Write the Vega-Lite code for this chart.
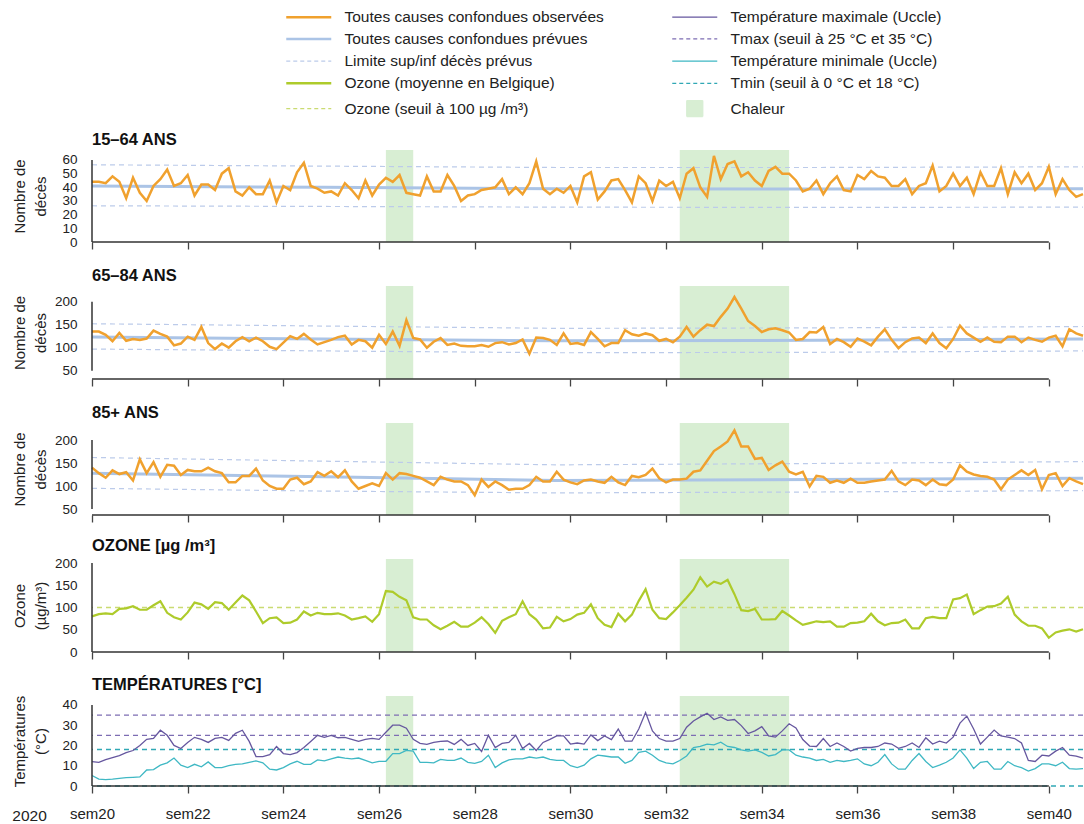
{
  "$schema": "https://vega.github.io/schema/vega-lite/v6.json",
  "padding": {"left": 11, "top": 9, "right": 0, "bottom": 0},
  "spacing": 44,
  "bounds": "flush",
  "config": {
    "font": "Liberation Sans",
    "view": {"stroke": null},
    "range": {"category": ["#F0A12E", "#ABC4E6", "#BCCBEA", "#AECB2B", "#CADB72", "#66579F", "#7D6DB3", "#3FB8C4", "#30A8B5", "#D8EED3"]},
    "title": {"anchor": "start", "frame": "group", "fontSize": 16.5, "fontWeight": "bold", "baseline": "alphabetic", "offset": 2, "color": "#111"},
    "axis": {"labelOverlap": false, "labelSeparation": -40},
    "axisY": {"titleAlign": "center", "titleBaseline": "middle", "titleFontSize": 15, "titleFontWeight": "normal", "titleLineHeight": 21, "titleX": -73, "labelFontSize": 13.5, "labelPadding": 15, "labelOverlap": false, "labelSeparation": -40, "ticks": false, "domain": false, "grid": false, "labelColor": "#222", "titleColor": "#222"},
    "axisX": {"domain": false, "grid": false, "tickSize": 7, "tickColor": "#444", "tickWidth": 1.3, "labelFontSize": 15, "labelPadding": 13, "labelFlush": false, "labelOverlap": false, "labelColor": "#222", "titleColor": "#222"}
  },
  "datasets": {
    "heat": [{"s": "2020-06-23", "e": "2020-06-27"}, {"s": "2020-08-05", "e": "2020-08-21"}],
    "axes": [{"s": "2020-05-11", "e": "2020-09-28"}],
    "ref": [
      {"d": "2020-05-11", "e1": 41, "h1": 56.5, "l1": 26.5, "e2": 123, "h2": 152, "l2": 97, "e3": 128, "h3": 162, "l3": 95},
      {"d": "2020-06-14", "e1": 40, "h1": 55.5, "l1": 26, "e2": 119, "h2": 147, "l2": 93, "e3": 120, "h3": 154, "l3": 89},
      {"d": "2020-07-18", "e1": 39, "h1": 54.5, "l1": 25.5, "e2": 115, "h2": 142, "l2": 89, "e3": 112, "h3": 146, "l3": 85},
      {"d": "2020-08-25", "e1": 38.8, "h1": 54.5, "l1": 25.3, "e2": 116, "h2": 143, "l2": 90, "e3": 114, "h3": 149, "l3": 87},
      {"d": "2020-10-03", "e1": 39, "h1": 55, "l1": 25.5, "e2": 119, "h2": 146, "l2": 93, "e3": 117, "h3": 153, "l3": 90}
    ],
    "daily": [
      {"d": "2020-05-11", "a": 44, "b": 135, "c": 140, "o": 80, "tx": 12, "tn": 5.2},
      {"d": "2020-05-12", "a": 44, "b": 135, "c": 128, "o": 85, "tx": 11.7, "tn": 3.4},
      {"d": "2020-05-13", "a": 43, "b": 128, "c": 118, "o": 87, "tx": 13, "tn": 3.1},
      {"d": "2020-05-14", "a": 48, "b": 114, "c": 134, "o": 85, "tx": 14, "tn": 3.4},
      {"d": "2020-05-15", "a": 44, "b": 132, "c": 126, "o": 97, "tx": 15, "tn": 3.8},
      {"d": "2020-05-16", "a": 32, "b": 115, "c": 130, "o": 98, "tx": 16.5, "tn": 4.1},
      {"d": "2020-05-17", "a": 47, "b": 119, "c": 112, "o": 103, "tx": 17.5, "tn": 4.3},
      {"d": "2020-05-18", "a": 36, "b": 117, "c": 158, "o": 95, "tx": 20, "tn": 4.5},
      {"d": "2020-05-19", "a": 30, "b": 120, "c": 128, "o": 95, "tx": 23, "tn": 7.9},
      {"d": "2020-05-20", "a": 41, "b": 137, "c": 152, "o": 105, "tx": 23.5, "tn": 8.1},
      {"d": "2020-05-21", "a": 46, "b": 130, "c": 120, "o": 114, "tx": 27.5, "tn": 10.3},
      {"d": "2020-05-22", "a": 53, "b": 124, "c": 146, "o": 88, "tx": 25, "tn": 11.4},
      {"d": "2020-05-23", "a": 41, "b": 105, "c": 144, "o": 78, "tx": 20, "tn": 13.8},
      {"d": "2020-05-24", "a": 43, "b": 109, "c": 124, "o": 73, "tx": 18.5, "tn": 10.3},
      {"d": "2020-05-25", "a": 49, "b": 124, "c": 135, "o": 89, "tx": 21.5, "tn": 9.1},
      {"d": "2020-05-26", "a": 34, "b": 117, "c": 132, "o": 111, "tx": 24, "tn": 10.7},
      {"d": "2020-05-27", "a": 42, "b": 145, "c": 132, "o": 107, "tx": 23, "tn": 9.5},
      {"d": "2020-05-28", "a": 42, "b": 110, "c": 140, "o": 97, "tx": 21.5, "tn": 11.9},
      {"d": "2020-05-29", "a": 38, "b": 97, "c": 132, "o": 112, "tx": 23.5, "tn": 9.1},
      {"d": "2020-05-30", "a": 50, "b": 109, "c": 128, "o": 110, "tx": 24, "tn": 9.1},
      {"d": "2020-05-31", "a": 54, "b": 100, "c": 108, "o": 95, "tx": 22.5, "tn": 10},
      {"d": "2020-06-01", "a": 37, "b": 114, "c": 108, "o": 111, "tx": 26, "tn": 10.7},
      {"d": "2020-06-02", "a": 34, "b": 123, "c": 122, "o": 127, "tx": 27.5, "tn": 10.9},
      {"d": "2020-06-03", "a": 40, "b": 114, "c": 122, "o": 116, "tx": 22, "tn": 11.7},
      {"d": "2020-06-04", "a": 35, "b": 122, "c": 138, "o": 91, "tx": 14.5, "tn": 12.4},
      {"d": "2020-06-05", "a": 35, "b": 114, "c": 112, "o": 65, "tx": 14.5, "tn": 11.4},
      {"d": "2020-06-06", "a": 45, "b": 102, "c": 100, "o": 76, "tx": 15.5, "tn": 8.3},
      {"d": "2020-06-07", "a": 29, "b": 97, "c": 94, "o": 78, "tx": 19.5, "tn": 7.9},
      {"d": "2020-06-08", "a": 41, "b": 111, "c": 94, "o": 65, "tx": 16, "tn": 9.1},
      {"d": "2020-06-09", "a": 38, "b": 125, "c": 114, "o": 66, "tx": 15.5, "tn": 10.9},
      {"d": "2020-06-10", "a": 51, "b": 119, "c": 118, "o": 73, "tx": 16.5, "tn": 12.2},
      {"d": "2020-06-11", "a": 58, "b": 130, "c": 104, "o": 91, "tx": 19, "tn": 10.7},
      {"d": "2020-06-12", "a": 41, "b": 118, "c": 110, "o": 82, "tx": 22, "tn": 10.7},
      {"d": "2020-06-13", "a": 39, "b": 107, "c": 130, "o": 88, "tx": 25, "tn": 12.9},
      {"d": "2020-06-14", "a": 36, "b": 112, "c": 122, "o": 85, "tx": 24, "tn": 12.4},
      {"d": "2020-06-15", "a": 37, "b": 117, "c": 132, "o": 85, "tx": 25, "tn": 13.4},
      {"d": "2020-06-16", "a": 34, "b": 123, "c": 119, "o": 87, "tx": 23.8, "tn": 14.3},
      {"d": "2020-06-17", "a": 43, "b": 126, "c": 134, "o": 82, "tx": 24, "tn": 13.8},
      {"d": "2020-06-18", "a": 38, "b": 107, "c": 110, "o": 73, "tx": 23, "tn": 13.4},
      {"d": "2020-06-19", "a": 32, "b": 117, "c": 94, "o": 76, "tx": 22, "tn": 13.8},
      {"d": "2020-06-20", "a": 45, "b": 114, "c": 100, "o": 80, "tx": 23, "tn": 12.6},
      {"d": "2020-06-21", "a": 34, "b": 100, "c": 106, "o": 68, "tx": 23.5, "tn": 11.4},
      {"d": "2020-06-22", "a": 42, "b": 128, "c": 100, "o": 85, "tx": 23, "tn": 12.1},
      {"d": "2020-06-23", "a": 47, "b": 108, "c": 128, "o": 137, "tx": 26.5, "tn": 12.2},
      {"d": "2020-06-24", "a": 44, "b": 135, "c": 114, "o": 135, "tx": 30, "tn": 16},
      {"d": "2020-06-25", "a": 49, "b": 104, "c": 128, "o": 124, "tx": 30, "tn": 16},
      {"d": "2020-06-26", "a": 36, "b": 160, "c": 126, "o": 116, "tx": 28.5, "tn": 17.6},
      {"d": "2020-06-27", "a": 35, "b": 121, "c": 122, "o": 78, "tx": 23, "tn": 17.2},
      {"d": "2020-06-28", "a": 34, "b": 118, "c": 118, "o": 73, "tx": 21, "tn": 11.7},
      {"d": "2020-06-29", "a": 48, "b": 100, "c": 110, "o": 73, "tx": 20.5, "tn": 11.7},
      {"d": "2020-06-30", "a": 37, "b": 113, "c": 102, "o": 60, "tx": 21.5, "tn": 11.4},
      {"d": "2020-07-01", "a": 37, "b": 121, "c": 120, "o": 51, "tx": 22, "tn": 13.1},
      {"d": "2020-07-02", "a": 49, "b": 106, "c": 114, "o": 59, "tx": 22.2, "tn": 12.6},
      {"d": "2020-07-03", "a": 41, "b": 109, "c": 110, "o": 68, "tx": 20.5, "tn": 12.6},
      {"d": "2020-07-04", "a": 30, "b": 104, "c": 110, "o": 57, "tx": 23, "tn": 13.8},
      {"d": "2020-07-05", "a": 34, "b": 103, "c": 102, "o": 57, "tx": 20, "tn": 11.7},
      {"d": "2020-07-06", "a": 35, "b": 103, "c": 80, "o": 66, "tx": 21, "tn": 11.2},
      {"d": "2020-07-07", "a": 38, "b": 106, "c": 114, "o": 78, "tx": 17, "tn": 12.1},
      {"d": "2020-07-08", "a": 39, "b": 102, "c": 98, "o": 63, "tx": 25, "tn": 15.2},
      {"d": "2020-07-09", "a": 40, "b": 110, "c": 110, "o": 43, "tx": 19, "tn": 9.1},
      {"d": "2020-07-10", "a": 46, "b": 112, "c": 102, "o": 70, "tx": 21, "tn": 11.4},
      {"d": "2020-07-11", "a": 35, "b": 107, "c": 92, "o": 78, "tx": 21.5, "tn": 12.9},
      {"d": "2020-07-12", "a": 40, "b": 110, "c": 94, "o": 85, "tx": 25, "tn": 13.4},
      {"d": "2020-07-13", "a": 35, "b": 118, "c": 94, "o": 114, "tx": 18.5, "tn": 13.4},
      {"d": "2020-07-14", "a": 43, "b": 87, "c": 102, "o": 85, "tx": 21, "tn": 14.3},
      {"d": "2020-07-15", "a": 59, "b": 122, "c": 120, "o": 73, "tx": 17.5, "tn": 13.8},
      {"d": "2020-07-16", "a": 39, "b": 121, "c": 110, "o": 53, "tx": 21.5, "tn": 14.3},
      {"d": "2020-07-17", "a": 35, "b": 117, "c": 110, "o": 55, "tx": 23, "tn": 13.1},
      {"d": "2020-07-18", "a": 39, "b": 106, "c": 131, "o": 79, "tx": 24.7, "tn": 12.6},
      {"d": "2020-07-19", "a": 36, "b": 131, "c": 114, "o": 69, "tx": 24.7, "tn": 12.6},
      {"d": "2020-07-20", "a": 41, "b": 108, "c": 108, "o": 74, "tx": 20.7, "tn": 10},
      {"d": "2020-07-21", "a": 29, "b": 110, "c": 104, "o": 84, "tx": 21.2, "tn": 9.1},
      {"d": "2020-07-22", "a": 48, "b": 106, "c": 112, "o": 88, "tx": 20.7, "tn": 10.3},
      {"d": "2020-07-23", "a": 51, "b": 134, "c": 114, "o": 107, "tx": 25.2, "tn": 13.4},
      {"d": "2020-07-24", "a": 31, "b": 119, "c": 110, "o": 76, "tx": 22.4, "tn": 15.2},
      {"d": "2020-07-25", "a": 37, "b": 103, "c": 107, "o": 61, "tx": 24.7, "tn": 14.8},
      {"d": "2020-07-26", "a": 45, "b": 110, "c": 120, "o": 56, "tx": 22.9, "tn": 14.3},
      {"d": "2020-07-27", "a": 46, "b": 110, "c": 108, "o": 86, "tx": 28.1, "tn": 14.3},
      {"d": "2020-07-28", "a": 38, "b": 138, "c": 102, "o": 69, "tx": 22.1, "tn": 11.2},
      {"d": "2020-07-29", "a": 29, "b": 129, "c": 122, "o": 84, "tx": 22.1, "tn": 12.6},
      {"d": "2020-07-30", "a": 48, "b": 126, "c": 119, "o": 115, "tx": 28.1, "tn": 16.6},
      {"d": "2020-07-31", "a": 43, "b": 131, "c": 124, "o": 141, "tx": 36.2, "tn": 17.2},
      {"d": "2020-08-01", "a": 30, "b": 127, "c": 138, "o": 95, "tx": 27.2, "tn": 15.2},
      {"d": "2020-08-02", "a": 45, "b": 115, "c": 117, "o": 76, "tx": 23.4, "tn": 12.6},
      {"d": "2020-08-03", "a": 41, "b": 119, "c": 108, "o": 74, "tx": 22.1, "tn": 11.4},
      {"d": "2020-08-04", "a": 44, "b": 112, "c": 114, "o": 89, "tx": 22.1, "tn": 10.9},
      {"d": "2020-08-05", "a": 32, "b": 124, "c": 114, "o": 105, "tx": 23.4, "tn": 12.6},
      {"d": "2020-08-06", "a": 50, "b": 145, "c": 116, "o": 122, "tx": 29, "tn": 14.8},
      {"d": "2020-08-07", "a": 54, "b": 124, "c": 131, "o": 140, "tx": 32.1, "tn": 19},
      {"d": "2020-08-08", "a": 40, "b": 138, "c": 134, "o": 168, "tx": 34.1, "tn": 19.5},
      {"d": "2020-08-09", "a": 33, "b": 150, "c": 155, "o": 147, "tx": 35.9, "tn": 20.7},
      {"d": "2020-08-10", "a": 63, "b": 147, "c": 176, "o": 158, "tx": 32.8, "tn": 20.3},
      {"d": "2020-08-11", "a": 46, "b": 167, "c": 186, "o": 153, "tx": 34.1, "tn": 21.6},
      {"d": "2020-08-12", "a": 57, "b": 185, "c": 197, "o": 162, "tx": 32.4, "tn": 19.5},
      {"d": "2020-08-13", "a": 59, "b": 210, "c": 221, "o": 130, "tx": 32.8, "tn": 19},
      {"d": "2020-08-14", "a": 48, "b": 185, "c": 186, "o": 94, "tx": 29.8, "tn": 17.8},
      {"d": "2020-08-15", "a": 51, "b": 158, "c": 186, "o": 92, "tx": 25.9, "tn": 17.2},
      {"d": "2020-08-16", "a": 45, "b": 147, "c": 159, "o": 97, "tx": 27.2, "tn": 17.8},
      {"d": "2020-08-17", "a": 41, "b": 134, "c": 161, "o": 73, "tx": 29.3, "tn": 16.6},
      {"d": "2020-08-18", "a": 52, "b": 140, "c": 135, "o": 73, "tx": 24.7, "tn": 14.8},
      {"d": "2020-08-19", "a": 55, "b": 142, "c": 145, "o": 74, "tx": 24.1, "tn": 15.5},
      {"d": "2020-08-20", "a": 50, "b": 138, "c": 153, "o": 92, "tx": 27.2, "tn": 17.8},
      {"d": "2020-08-21", "a": 50, "b": 133, "c": 131, "o": 82, "tx": 30.7, "tn": 17.8},
      {"d": "2020-08-22", "a": 45, "b": 117, "c": 125, "o": 71, "tx": 28.6, "tn": 15.2},
      {"d": "2020-08-23", "a": 37, "b": 119, "c": 131, "o": 61, "tx": 22.9, "tn": 14.3},
      {"d": "2020-08-24", "a": 39, "b": 134, "c": 99, "o": 65, "tx": 19.7, "tn": 13.8},
      {"d": "2020-08-25", "a": 45, "b": 133, "c": 122, "o": 69, "tx": 19.5, "tn": 12.6},
      {"d": "2020-08-26", "a": 35, "b": 145, "c": 120, "o": 67, "tx": 23.4, "tn": 13.1},
      {"d": "2020-08-27", "a": 43, "b": 108, "c": 107, "o": 69, "tx": 19.5, "tn": 11.7},
      {"d": "2020-08-28", "a": 48, "b": 119, "c": 112, "o": 57, "tx": 21.2, "tn": 12.6},
      {"d": "2020-08-29", "a": 38, "b": 112, "c": 107, "o": 57, "tx": 19.5, "tn": 12.1},
      {"d": "2020-08-30", "a": 37, "b": 102, "c": 116, "o": 65, "tx": 17.2, "tn": 12.6},
      {"d": "2020-08-31", "a": 49, "b": 120, "c": 107, "o": 66, "tx": 18.6, "tn": 13.4},
      {"d": "2020-09-01", "a": 46, "b": 113, "c": 107, "o": 69, "tx": 19, "tn": 10.9},
      {"d": "2020-09-02", "a": 52, "b": 105, "c": 110, "o": 86, "tx": 19, "tn": 10},
      {"d": "2020-09-03", "a": 48, "b": 124, "c": 112, "o": 69, "tx": 19.5, "tn": 11.7},
      {"d": "2020-09-04", "a": 47, "b": 140, "c": 114, "o": 60, "tx": 21.2, "tn": 15.5},
      {"d": "2020-09-05", "a": 41, "b": 117, "c": 133, "o": 65, "tx": 20.7, "tn": 10.9},
      {"d": "2020-09-06", "a": 41, "b": 99, "c": 110, "o": 66, "tx": 18.6, "tn": 8.3},
      {"d": "2020-09-07", "a": 46, "b": 112, "c": 102, "o": 73, "tx": 19.5, "tn": 8.3},
      {"d": "2020-09-08", "a": 35, "b": 120, "c": 114, "o": 53, "tx": 21.2, "tn": 12.6},
      {"d": "2020-09-09", "a": 41, "b": 122, "c": 112, "o": 53, "tx": 19, "tn": 16},
      {"d": "2020-09-10", "a": 43, "b": 110, "c": 102, "o": 76, "tx": 23.8, "tn": 12.1},
      {"d": "2020-09-11", "a": 56, "b": 131, "c": 114, "o": 79, "tx": 20.7, "tn": 9.1},
      {"d": "2020-09-12", "a": 37, "b": 110, "c": 104, "o": 76, "tx": 22.1, "tn": 10.3},
      {"d": "2020-09-13", "a": 41, "b": 99, "c": 102, "o": 76, "tx": 21.2, "tn": 11.7},
      {"d": "2020-09-14", "a": 50, "b": 119, "c": 114, "o": 118, "tx": 24.1, "tn": 13.8},
      {"d": "2020-09-15", "a": 41, "b": 148, "c": 145, "o": 121, "tx": 31, "tn": 17.8},
      {"d": "2020-09-16", "a": 47, "b": 131, "c": 131, "o": 129, "tx": 34.5, "tn": 13.8},
      {"d": "2020-09-17", "a": 35, "b": 122, "c": 125, "o": 85, "tx": 28.1, "tn": 8.6},
      {"d": "2020-09-18", "a": 51, "b": 113, "c": 122, "o": 94, "tx": 20.7, "tn": 11.7},
      {"d": "2020-09-19", "a": 41, "b": 122, "c": 120, "o": 102, "tx": 24.1, "tn": 12.1},
      {"d": "2020-09-20", "a": 41, "b": 113, "c": 114, "o": 103, "tx": 27.6, "tn": 8.3},
      {"d": "2020-09-21", "a": 54, "b": 112, "c": 93, "o": 109, "tx": 24.7, "tn": 8.3},
      {"d": "2020-09-22", "a": 35, "b": 124, "c": 114, "o": 124, "tx": 24.1, "tn": 12.1},
      {"d": "2020-09-23", "a": 51, "b": 124, "c": 124, "o": 84, "tx": 23.4, "tn": 10},
      {"d": "2020-09-24", "a": 43, "b": 112, "c": 134, "o": 69, "tx": 21.2, "tn": 9.1},
      {"d": "2020-09-25", "a": 50, "b": 122, "c": 124, "o": 59, "tx": 12.6, "tn": 7.4},
      {"d": "2020-09-26", "a": 38, "b": 117, "c": 135, "o": 59, "tx": 12.1, "tn": 8.6},
      {"d": "2020-09-27", "a": 43, "b": 113, "c": 93, "o": 53, "tx": 15.2, "tn": 10.9},
      {"d": "2020-09-28", "a": 55, "b": 122, "c": 124, "o": 32, "tx": 14.8, "tn": 10.9},
      {"d": "2020-09-29", "a": 35, "b": 126, "c": 128, "o": 44, "tx": 17.2, "tn": 10},
      {"d": "2020-09-30", "a": 46, "b": 103, "c": 100, "o": 48, "tx": 19, "tn": 11.7},
      {"d": "2020-10-01", "a": 38, "b": 140, "c": 117, "o": 51, "tx": 15.2, "tn": 8.6},
      {"d": "2020-10-02", "a": 33, "b": 131, "c": 110, "o": 46, "tx": 14.7, "tn": 8.3},
      {"d": "2020-10-03", "a": 35, "b": 126, "c": 104, "o": 51, "tx": 13.8, "tn": 8.6}
    ]
  },
  "resolve": {"scale": {"color": "shared"}, "legend": {"color": "shared"}},
  "vconcat": [
    {
      "width": 991, "height": 92,
      "title": "15–64 ANS",
      "layer": [
        {"data": {"name": "heat"}, "mark": "rect",
         "encoding": {
           "x": {"field": "s", "type": "temporal", "scale": {"type": "utc", "nice": false, "domain": [{"year": 2020, "month": 5, "date": 11, "utc": true}, {"year": 2020, "month": 10, "date": 3, "utc": true}]},
                 "axis": {"title": null, "labels": false, "values": [{"year": 2020, "month": 5, "date": 11, "utc": true}, {"year": 2020, "month": 5, "date": 25, "utc": true}, {"year": 2020, "month": 6, "date": 8, "utc": true}, {"year": 2020, "month": 6, "date": 22, "utc": true}, {"year": 2020, "month": 7, "date": 6, "utc": true}, {"year": 2020, "month": 7, "date": 20, "utc": true}, {"year": 2020, "month": 8, "date": 3, "utc": true}, {"year": 2020, "month": 8, "date": 17, "utc": true}, {"year": 2020, "month": 8, "date": 31, "utc": true}, {"year": 2020, "month": 9, "date": 14, "utc": true}, {"year": 2020, "month": 9, "date": 28, "utc": true}]}},
           "x2": {"field": "e"},
           "color": {"datum": "Chaleur", "scale": {"domain": ["Toutes causes confondues observées", "Toutes causes confondues prévues", "Limite sup/inf décès prévus", "Ozone (moyenne en Belgique)", "Ozone (seuil à 100 µg /m³)", "Température maximale (Uccle)", "Tmax (seuil à 25 °C et 35 °C)", "Température minimale (Uccle)", "Tmin (seuil à 0 °C et 18 °C)", "Chaleur"]}}
         }},
        {"data": {"name": "ref"}, "mark": {"type": "line", "strokeWidth": 1.2, "strokeDash": [5, 4]},
         "encoding": {
           "x": {"field": "d", "type": "temporal"},
           "y": {"field": "h1", "type": "quantitative", "scale": {"domain": [0, 67.3], "nice": false, "zero": false}, "axis": {"values": [0, 10, 20, 30, 40, 50, 60], "labelOverlap": false, "labelSeparation": -40, "title": ["Nombre de", "décès"], "titleY": 46}},
           "color": {"datum": "Limite sup/inf décès prévus"}
         }},
        {"data": {"name": "ref"}, "mark": {"type": "line", "strokeWidth": 1.2, "strokeDash": [5, 4]},
         "encoding": {
           "x": {"field": "d", "type": "temporal"},
           "y": {"field": "l1", "type": "quantitative", "axis": {"values": [0, 10, 20, 30, 40, 50, 60], "labelOverlap": false, "labelSeparation": -40, "title": ["Nombre de", "décès"], "titleY": 46}},
           "color": {"datum": "Limite sup/inf décès prévus"}
         }},
        {"data": {"name": "ref"}, "mark": {"type": "line", "strokeWidth": 3},
         "encoding": {
           "x": {"field": "d", "type": "temporal"},
           "y": {"field": "e1", "type": "quantitative", "axis": {"values": [0, 10, 20, 30, 40, 50, 60], "labelOverlap": false, "labelSeparation": -40, "title": ["Nombre de", "décès"], "titleY": 46}},
           "color": {"datum": "Toutes causes confondues prévues"}
         }},
        {"data": {"name": "daily"}, "mark": {"type": "line", "strokeWidth": 2.5},
         "encoding": {
           "x": {"field": "d", "type": "temporal"},
           "y": {"field": "a", "type": "quantitative", "axis": {"values": [0, 10, 20, 30, 40, 50, 60], "labelOverlap": false, "labelSeparation": -40, "title": ["Nombre de", "décès"], "titleY": 46}},
           "color": {"datum": "Toutes causes confondues observées",
             "legend": {"title": null, "orient": "none", "legendX": 209, "legendY": -141, "columns": 2, "columnPadding": 65, "rowPadding": 5.2, "symbolSize": 100, "symbolType": "stroke", "symbolStrokeWidth": 1.5, "labelFontSize": 15.5, "labelOffset": 28, "labelLimit": 500, "labelColor": "#222", "padding": 0,
               "encode": {"symbols": {"update": {
                 "shape": {"signal": "datum.value === 'Chaleur' ? 'square' : 'stroke'"},
                 "size": {"signal": "datum.value === 'Chaleur' ? 256 : 2025"},
                 "fill": {"signal": "datum.value === 'Chaleur' ? scale('color', datum.value) : 'transparent'"},
                 "stroke": {"signal": "datum.value === 'Chaleur' ? 'transparent' : scale('color', datum.value)"},
                 "strokeWidth": {"signal": "(datum.value === 'Toutes causes confondues observées' || datum.value === 'Toutes causes confondues prévues' || datum.value === 'Ozone (moyenne en Belgique)') ? 2.5 : 1.3"},
                 "strokeDash": {"signal": "indexof(['Limite sup/inf décès prévus', 'Ozone (seuil à 100 µg /m³)', 'Tmax (seuil à 25 °C et 35 °C)', 'Tmin (seuil à 0 °C et 18 °C)'], datum.value) >= 0 ? [4, 3] : [1, 0]"},
                 "opacity": {"value": 1}
               }}}}}
         }},
        {"data": {"name": "axes"}, "mark": {"type": "rule", "color": "#333", "strokeWidth": 1.5},
         "encoding": {"x": {"field": "s", "type": "temporal"}, "x2": {"field": "e"}, "y": {"datum": 0, "type": "quantitative", "axis": {"values": [0, 10, 20, 30, 40, 50, 60], "labelOverlap": false, "labelSeparation": -40, "title": ["Nombre de", "décès"], "titleY": 46}}}},
        {"data": {"name": "axes"}, "mark": {"type": "rule", "color": "#333", "strokeWidth": 1.5},
         "encoding": {"x": {"field": "s", "type": "temporal"}, "y": {"datum": 0, "type": "quantitative", "axis": {"values": [0, 10, 20, 30, 40, 50, 60], "labelOverlap": false, "labelSeparation": -40, "title": ["Nombre de", "décès"], "titleY": 46}}, "y2": {"datum": 60}}}
      ]
    },
    {
      "width": 991, "height": 93,
      "title": "65–84 ANS",
      "layer": [
        {"data": {"name": "heat"}, "mark": "rect",
         "encoding": {
           "x": {"field": "s", "type": "temporal", "scale": {"type": "utc", "nice": false, "domain": [{"year": 2020, "month": 5, "date": 11, "utc": true}, {"year": 2020, "month": 10, "date": 3, "utc": true}]},
                 "axis": {"title": null, "labels": false, "values": [{"year": 2020, "month": 5, "date": 11, "utc": true}, {"year": 2020, "month": 5, "date": 25, "utc": true}, {"year": 2020, "month": 6, "date": 8, "utc": true}, {"year": 2020, "month": 6, "date": 22, "utc": true}, {"year": 2020, "month": 7, "date": 6, "utc": true}, {"year": 2020, "month": 7, "date": 20, "utc": true}, {"year": 2020, "month": 8, "date": 3, "utc": true}, {"year": 2020, "month": 8, "date": 17, "utc": true}, {"year": 2020, "month": 8, "date": 31, "utc": true}, {"year": 2020, "month": 9, "date": 14, "utc": true}, {"year": 2020, "month": 9, "date": 28, "utc": true}]}},
           "x2": {"field": "e"},
           "color": {"datum": "Chaleur", "scale": {"domain": ["Toutes causes confondues observées", "Toutes causes confondues prévues", "Limite sup/inf décès prévus", "Ozone (moyenne en Belgique)", "Ozone (seuil à 100 µg /m³)", "Température maximale (Uccle)", "Tmax (seuil à 25 °C et 35 °C)", "Température minimale (Uccle)", "Tmin (seuil à 0 °C et 18 °C)", "Chaleur"]}}
         }},
        {"data": {"name": "ref"}, "mark": {"type": "line", "strokeWidth": 1.2, "strokeDash": [5, 4]},
         "encoding": {
           "x": {"field": "d", "type": "temporal"},
           "y": {"field": "h2", "type": "quantitative", "scale": {"domain": [32, 234], "nice": false, "zero": false}, "axis": {"values": [50, 100, 150, 200], "labelOverlap": false, "labelSeparation": -40, "title": ["Nombre de", "décès"], "titleY": 46.5}},
           "color": {"datum": "Limite sup/inf décès prévus"}
         }},
        {"data": {"name": "ref"}, "mark": {"type": "line", "strokeWidth": 1.2, "strokeDash": [5, 4]},
         "encoding": {
           "x": {"field": "d", "type": "temporal"},
           "y": {"field": "l2", "type": "quantitative", "axis": {"values": [50, 100, 150, 200], "labelOverlap": false, "labelSeparation": -40, "title": ["Nombre de", "décès"], "titleY": 46.5}},
           "color": {"datum": "Limite sup/inf décès prévus"}
         }},
        {"data": {"name": "ref"}, "mark": {"type": "line", "strokeWidth": 3},
         "encoding": {
           "x": {"field": "d", "type": "temporal"},
           "y": {"field": "e2", "type": "quantitative", "axis": {"values": [50, 100, 150, 200], "labelOverlap": false, "labelSeparation": -40, "title": ["Nombre de", "décès"], "titleY": 46.5}},
           "color": {"datum": "Toutes causes confondues prévues"}
         }},
        {"data": {"name": "daily"}, "mark": {"type": "line", "strokeWidth": 2.5},
         "encoding": {
           "x": {"field": "d", "type": "temporal"},
           "y": {"field": "b", "type": "quantitative", "axis": {"values": [50, 100, 150, 200], "labelOverlap": false, "labelSeparation": -40, "title": ["Nombre de", "décès"], "titleY": 46.5}},
           "color": {"datum": "Toutes causes confondues observées"}
         }},
        {"data": {"name": "axes"}, "mark": {"type": "rule", "color": "#333", "strokeWidth": 1.5},
         "encoding": {"x": {"field": "s", "type": "temporal"}, "x2": {"field": "e"}, "y": {"datum": 32, "type": "quantitative", "axis": {"values": [50, 100, 150, 200], "labelOverlap": false, "labelSeparation": -40, "title": ["Nombre de", "décès"], "titleY": 46.5}}}},
        {"data": {"name": "axes"}, "mark": {"type": "rule", "color": "#333", "strokeWidth": 1.5},
         "encoding": {"x": {"field": "s", "type": "temporal"}, "y": {"datum": 50, "type": "quantitative", "axis": {"values": [50, 100, 150, 200], "labelOverlap": false, "labelSeparation": -40, "title": ["Nombre de", "décès"], "titleY": 46.5}}, "y2": {"datum": 200}}}
      ]
    },
    {
      "width": 991, "height": 92,
      "title": "85+ ANS",
      "layer": [
        {"data": {"name": "heat"}, "mark": "rect",
         "encoding": {
           "x": {"field": "s", "type": "temporal", "scale": {"type": "utc", "nice": false, "domain": [{"year": 2020, "month": 5, "date": 11, "utc": true}, {"year": 2020, "month": 10, "date": 3, "utc": true}]},
                 "axis": {"title": null, "labels": false, "values": [{"year": 2020, "month": 5, "date": 11, "utc": true}, {"year": 2020, "month": 5, "date": 25, "utc": true}, {"year": 2020, "month": 6, "date": 8, "utc": true}, {"year": 2020, "month": 6, "date": 22, "utc": true}, {"year": 2020, "month": 7, "date": 6, "utc": true}, {"year": 2020, "month": 7, "date": 20, "utc": true}, {"year": 2020, "month": 8, "date": 3, "utc": true}, {"year": 2020, "month": 8, "date": 17, "utc": true}, {"year": 2020, "month": 8, "date": 31, "utc": true}, {"year": 2020, "month": 9, "date": 14, "utc": true}, {"year": 2020, "month": 9, "date": 28, "utc": true}]}},
           "x2": {"field": "e"},
           "color": {"datum": "Chaleur", "scale": {"domain": ["Toutes causes confondues observées", "Toutes causes confondues prévues", "Limite sup/inf décès prévus", "Ozone (moyenne en Belgique)", "Ozone (seuil à 100 µg /m³)", "Température maximale (Uccle)", "Tmax (seuil à 25 °C et 35 °C)", "Température minimale (Uccle)", "Tmin (seuil à 0 °C et 18 °C)", "Chaleur"]}}
         }},
        {"data": {"name": "ref"}, "mark": {"type": "line", "strokeWidth": 1.2, "strokeDash": [5, 4]},
         "encoding": {
           "x": {"field": "d", "type": "temporal"},
           "y": {"field": "h3", "type": "quantitative", "scale": {"domain": [37, 237], "nice": false, "zero": false}, "axis": {"values": [50, 100, 150, 200], "labelOverlap": false, "labelSeparation": -40, "title": ["Nombre de", "décès"], "titleY": 46}},
           "color": {"datum": "Limite sup/inf décès prévus"}
         }},
        {"data": {"name": "ref"}, "mark": {"type": "line", "strokeWidth": 1.2, "strokeDash": [5, 4]},
         "encoding": {
           "x": {"field": "d", "type": "temporal"},
           "y": {"field": "l3", "type": "quantitative", "axis": {"values": [50, 100, 150, 200], "labelOverlap": false, "labelSeparation": -40, "title": ["Nombre de", "décès"], "titleY": 46}},
           "color": {"datum": "Limite sup/inf décès prévus"}
         }},
        {"data": {"name": "ref"}, "mark": {"type": "line", "strokeWidth": 3},
         "encoding": {
           "x": {"field": "d", "type": "temporal"},
           "y": {"field": "e3", "type": "quantitative", "axis": {"values": [50, 100, 150, 200], "labelOverlap": false, "labelSeparation": -40, "title": ["Nombre de", "décès"], "titleY": 46}},
           "color": {"datum": "Toutes causes confondues prévues"}
         }},
        {"data": {"name": "daily"}, "mark": {"type": "line", "strokeWidth": 2.5},
         "encoding": {
           "x": {"field": "d", "type": "temporal"},
           "y": {"field": "c", "type": "quantitative", "axis": {"values": [50, 100, 150, 200], "labelOverlap": false, "labelSeparation": -40, "title": ["Nombre de", "décès"], "titleY": 46}},
           "color": {"datum": "Toutes causes confondues observées"}
         }},
        {"data": {"name": "axes"}, "mark": {"type": "rule", "color": "#333", "strokeWidth": 1.5},
         "encoding": {"x": {"field": "s", "type": "temporal"}, "x2": {"field": "e"}, "y": {"datum": 37, "type": "quantitative", "axis": {"values": [50, 100, 150, 200], "labelOverlap": false, "labelSeparation": -40, "title": ["Nombre de", "décès"], "titleY": 46}}}},
        {"data": {"name": "axes"}, "mark": {"type": "rule", "color": "#333", "strokeWidth": 1.5},
         "encoding": {"x": {"field": "s", "type": "temporal"}, "y": {"datum": 50, "type": "quantitative", "axis": {"values": [50, 100, 150, 200], "labelOverlap": false, "labelSeparation": -40, "title": ["Nombre de", "décès"], "titleY": 46}}, "y2": {"datum": 200}}}
      ]
    },
    {
      "width": 991, "height": 93,
      "title": "OZONE [µg /m³]",
      "layer": [
        {"data": {"name": "heat"}, "mark": "rect",
         "encoding": {
           "x": {"field": "s", "type": "temporal", "scale": {"type": "utc", "nice": false, "domain": [{"year": 2020, "month": 5, "date": 11, "utc": true}, {"year": 2020, "month": 10, "date": 3, "utc": true}]},
                 "axis": {"title": null, "labels": false, "values": [{"year": 2020, "month": 5, "date": 11, "utc": true}, {"year": 2020, "month": 5, "date": 25, "utc": true}, {"year": 2020, "month": 6, "date": 8, "utc": true}, {"year": 2020, "month": 6, "date": 22, "utc": true}, {"year": 2020, "month": 7, "date": 6, "utc": true}, {"year": 2020, "month": 7, "date": 20, "utc": true}, {"year": 2020, "month": 8, "date": 3, "utc": true}, {"year": 2020, "month": 8, "date": 17, "utc": true}, {"year": 2020, "month": 8, "date": 31, "utc": true}, {"year": 2020, "month": 9, "date": 14, "utc": true}, {"year": 2020, "month": 9, "date": 28, "utc": true}]}},
           "x2": {"field": "e"},
           "color": {"datum": "Chaleur", "scale": {"domain": ["Toutes causes confondues observées", "Toutes causes confondues prévues", "Limite sup/inf décès prévus", "Ozone (moyenne en Belgique)", "Ozone (seuil à 100 µg /m³)", "Température maximale (Uccle)", "Tmax (seuil à 25 °C et 35 °C)", "Température minimale (Uccle)", "Tmin (seuil à 0 °C et 18 °C)", "Chaleur"]}}
         }},
        {"data": {"name": "axes"}, "mark": {"type": "rule", "strokeWidth": 1.5, "strokeDash": [5, 4]},
         "encoding": {
           "y": {"datum": 100, "type": "quantitative", "scale": {"domain": [0, 209], "nice": false, "zero": false}, "axis": {"values": [0, 50, 100, 150, 200], "labelOverlap": false, "labelSeparation": -40, "title": ["Ozone", "(µg/m³)"], "titleY": 46.5}},
           "color": {"datum": "Ozone (seuil à 100 µg /m³)"}
         }},
        {"data": {"name": "daily"}, "mark": {"type": "line", "strokeWidth": 2.2},
         "encoding": {
           "x": {"field": "d", "type": "temporal"},
           "y": {"field": "o", "type": "quantitative", "axis": {"values": [0, 50, 100, 150, 200], "labelOverlap": false, "labelSeparation": -40, "title": ["Ozone", "(µg/m³)"], "titleY": 46.5}},
           "color": {"datum": "Ozone (moyenne en Belgique)"}
         }},
        {"data": {"name": "axes"}, "mark": {"type": "rule", "color": "#333", "strokeWidth": 1.5},
         "encoding": {"x": {"field": "s", "type": "temporal"}, "x2": {"field": "e"}, "y": {"datum": 0, "type": "quantitative", "axis": {"values": [0, 50, 100, 150, 200], "labelOverlap": false, "labelSeparation": -40, "title": ["Ozone", "(µg/m³)"], "titleY": 46.5}}}},
        {"data": {"name": "axes"}, "mark": {"type": "rule", "color": "#333", "strokeWidth": 1.5},
         "encoding": {"x": {"field": "s", "type": "temporal"}, "y": {"datum": 0, "type": "quantitative", "axis": {"values": [0, 50, 100, 150, 200], "labelOverlap": false, "labelSeparation": -40, "title": ["Ozone", "(µg/m³)"], "titleY": 46.5}}, "y2": {"datum": 200}}}
      ]
    },
    {
      "width": 991, "height": 90,
      "title": "TEMPÉRATURES [°C]",
      "layer": [
        {"data": {"name": "heat"}, "mark": "rect",
         "encoding": {
           "x": {"field": "s", "type": "temporal", "scale": {"type": "utc", "nice": false, "domain": [{"year": 2020, "month": 5, "date": 11, "utc": true}, {"year": 2020, "month": 10, "date": 3, "utc": true}]},
                 "axis": {"title": "2020", "titleX": -63, "titleY": 29, "titleAlign": "center", "titleBaseline": "middle", "titleFontSize": 15.5, "titleFontWeight": "normal", "labelOverlap": false, "labelFlush": false, "labelExpr": "'sem' + utcFormat(datum.value, '%V')", "values": [{"year": 2020, "month": 5, "date": 11, "utc": true}, {"year": 2020, "month": 5, "date": 25, "utc": true}, {"year": 2020, "month": 6, "date": 8, "utc": true}, {"year": 2020, "month": 6, "date": 22, "utc": true}, {"year": 2020, "month": 7, "date": 6, "utc": true}, {"year": 2020, "month": 7, "date": 20, "utc": true}, {"year": 2020, "month": 8, "date": 3, "utc": true}, {"year": 2020, "month": 8, "date": 17, "utc": true}, {"year": 2020, "month": 8, "date": 31, "utc": true}, {"year": 2020, "month": 9, "date": 14, "utc": true}, {"year": 2020, "month": 9, "date": 28, "utc": true}]}},
           "x2": {"field": "e"},
           "color": {"datum": "Chaleur", "scale": {"domain": ["Toutes causes confondues observées", "Toutes causes confondues prévues", "Limite sup/inf décès prévus", "Ozone (moyenne en Belgique)", "Ozone (seuil à 100 µg /m³)", "Température maximale (Uccle)", "Tmax (seuil à 25 °C et 35 °C)", "Température minimale (Uccle)", "Tmin (seuil à 0 °C et 18 °C)", "Chaleur"]}}
         }},
        {"data": {"name": "axes"}, "mark": {"type": "rule", "strokeWidth": 1.3, "strokeDash": [5, 4]},
         "encoding": {
           "y": {"datum": 35, "type": "quantitative", "scale": {"domain": [0, 44.4], "nice": false, "zero": false}, "axis": {"values": [0, 10, 20, 30, 40], "labelOverlap": false, "labelSeparation": -40, "title": ["Températures", "(°C)"], "titleY": 45}},
           "color": {"datum": "Tmax (seuil à 25 °C et 35 °C)"}
         }},
        {"data": {"name": "axes"}, "mark": {"type": "rule", "strokeWidth": 1.3, "strokeDash": [5, 4]},
         "encoding": {
           "y": {"datum": 25, "type": "quantitative", "axis": {"values": [0, 10, 20, 30, 40], "labelOverlap": false, "labelSeparation": -40, "title": ["Températures", "(°C)"], "titleY": 45}},
           "color": {"datum": "Tmax (seuil à 25 °C et 35 °C)"}
         }},
        {"data": {"name": "axes"}, "mark": {"type": "rule", "strokeWidth": 1.3, "strokeDash": [5, 4]},
         "encoding": {
           "y": {"datum": 18, "type": "quantitative", "axis": {"values": [0, 10, 20, 30, 40], "labelOverlap": false, "labelSeparation": -40, "title": ["Températures", "(°C)"], "titleY": 45}},
           "color": {"datum": "Tmin (seuil à 0 °C et 18 °C)"}
         }},
        {"data": {"name": "axes"}, "mark": {"type": "rule", "strokeWidth": 1.3, "strokeDash": [5, 4]},
         "encoding": {
           "y": {"datum": 0, "type": "quantitative", "axis": {"values": [0, 10, 20, 30, 40], "labelOverlap": false, "labelSeparation": -40, "title": ["Températures", "(°C)"], "titleY": 45}},
           "color": {"datum": "Tmin (seuil à 0 °C et 18 °C)"}
         }},
        {"data": {"name": "daily"}, "mark": {"type": "line", "strokeWidth": 1.3},
         "encoding": {
           "x": {"field": "d", "type": "temporal"},
           "y": {"field": "tn", "type": "quantitative", "axis": {"values": [0, 10, 20, 30, 40], "labelOverlap": false, "labelSeparation": -40, "title": ["Températures", "(°C)"], "titleY": 45}},
           "color": {"datum": "Température minimale (Uccle)"}
         }},
        {"data": {"name": "daily"}, "mark": {"type": "line", "strokeWidth": 1.3},
         "encoding": {
           "x": {"field": "d", "type": "temporal"},
           "y": {"field": "tx", "type": "quantitative", "axis": {"values": [0, 10, 20, 30, 40], "labelOverlap": false, "labelSeparation": -40, "title": ["Températures", "(°C)"], "titleY": 45}},
           "color": {"datum": "Température maximale (Uccle)"}
         }},
        {"data": {"name": "axes"}, "mark": {"type": "rule", "color": "#333", "strokeWidth": 1.5},
         "encoding": {"x": {"field": "s", "type": "temporal"}, "x2": {"field": "e"}, "y": {"datum": 0, "type": "quantitative", "axis": {"values": [0, 10, 20, 30, 40], "labelOverlap": false, "labelSeparation": -40, "title": ["Températures", "(°C)"], "titleY": 45}}}},
        {"data": {"name": "axes"}, "mark": {"type": "rule", "color": "#333", "strokeWidth": 1.5},
         "encoding": {"x": {"field": "s", "type": "temporal"}, "y": {"datum": 0, "type": "quantitative", "axis": {"values": [0, 10, 20, 30, 40], "labelOverlap": false, "labelSeparation": -40, "title": ["Températures", "(°C)"], "titleY": 45}}, "y2": {"datum": 40}}}
      ]
    }
  ]
}
